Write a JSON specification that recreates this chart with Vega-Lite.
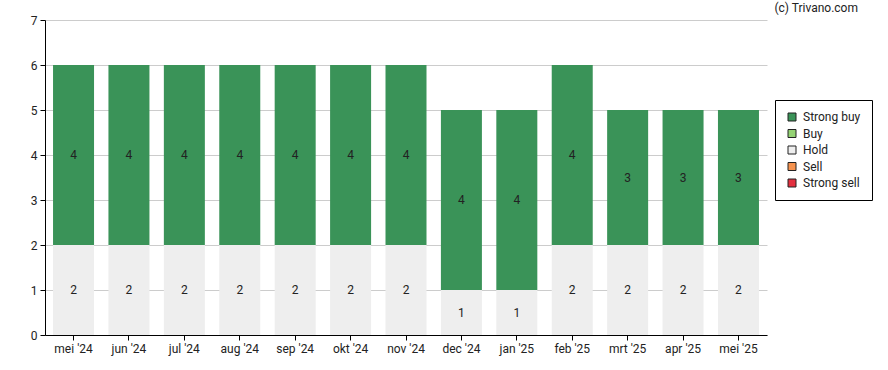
{
  "$schema": "https://vega.github.io/schema/vega-lite/v6.json",
  "width": 722,
  "height": 315,
  "autosize": {"type": "none"},
  "padding": {"left": 45, "top": 20, "right": 121, "bottom": 35},
  "background": "white",
  "title": {
    "text": "(c) Trivano.com",
    "anchor": "end",
    "frame": "group",
    "dx": 91,
    "offset": -1,
    "fontSize": 12,
    "fontWeight": "normal",
    "font": "Roboto",
    "color": "#222"
  },
  "config": {
    "font": "Roboto",
    "view": {"stroke": null},
    "axis": {"labelFont": "Roboto", "labelFontSize": 12, "labelColor": "#222", "domainColor": "#000", "tickColor": "#000", "title": null}
  },
  "data": {
    "values": [
      {"month": "mei '24", "rating": "Hold", "count": 2, "ord": 1},
      {"month": "mei '24", "rating": "Strong buy", "count": 4, "ord": 2},
      {"month": "jun '24", "rating": "Hold", "count": 2, "ord": 1},
      {"month": "jun '24", "rating": "Strong buy", "count": 4, "ord": 2},
      {"month": "jul '24", "rating": "Hold", "count": 2, "ord": 1},
      {"month": "jul '24", "rating": "Strong buy", "count": 4, "ord": 2},
      {"month": "aug '24", "rating": "Hold", "count": 2, "ord": 1},
      {"month": "aug '24", "rating": "Strong buy", "count": 4, "ord": 2},
      {"month": "sep '24", "rating": "Hold", "count": 2, "ord": 1},
      {"month": "sep '24", "rating": "Strong buy", "count": 4, "ord": 2},
      {"month": "okt '24", "rating": "Hold", "count": 2, "ord": 1},
      {"month": "okt '24", "rating": "Strong buy", "count": 4, "ord": 2},
      {"month": "nov '24", "rating": "Hold", "count": 2, "ord": 1},
      {"month": "nov '24", "rating": "Strong buy", "count": 4, "ord": 2},
      {"month": "dec '24", "rating": "Hold", "count": 1, "ord": 1},
      {"month": "dec '24", "rating": "Strong buy", "count": 4, "ord": 2},
      {"month": "jan '25", "rating": "Hold", "count": 1, "ord": 1},
      {"month": "jan '25", "rating": "Strong buy", "count": 4, "ord": 2},
      {"month": "feb '25", "rating": "Hold", "count": 2, "ord": 1},
      {"month": "feb '25", "rating": "Strong buy", "count": 4, "ord": 2},
      {"month": "mrt '25", "rating": "Hold", "count": 2, "ord": 1},
      {"month": "mrt '25", "rating": "Strong buy", "count": 3, "ord": 2},
      {"month": "apr '25", "rating": "Hold", "count": 2, "ord": 1},
      {"month": "apr '25", "rating": "Strong buy", "count": 3, "ord": 2},
      {"month": "mei '25", "rating": "Hold", "count": 2, "ord": 1},
      {"month": "mei '25", "rating": "Strong buy", "count": 3, "ord": 2}
    ]
  },
  "transform": [
    {"stack": "count", "groupby": ["month"], "sort": [{"field": "ord", "order": "ascending"}], "as": ["y0", "y1"]},
    {"calculate": "(datum.y0 + datum.y1) / 2", "as": "ymid"}
  ],
  "encoding": {
    "x": {
      "field": "month",
      "type": "ordinal",
      "sort": null,
      "scale": {"paddingInner": 0.26, "paddingOuter": 0.145},
      "axis": {"labelAngle": 0, "tickSize": 5, "labelPadding": 3, "domainWidth": 1, "labelFontSize": 12, "labelFont": "Roboto", "labelColor": "#222"}
    }
  },
  "layer": [
    {
      "mark": {"type": "bar"},
      "encoding": {
        "y": {
          "field": "y0",
          "type": "quantitative",
          "scale": {"domain": [0, 7], "nice": false},
          "axis": {"values": [0, 1, 2, 3, 4, 5, 6, 7], "tickSize": 5, "gridColor": "#cccccc", "gridWidth": 1, "labelPadding": 3, "labelFontSize": 12, "labelFont": "Roboto", "labelColor": "#222"}
        },
        "y2": {"field": "y1"},
        "color": {
          "field": "rating",
          "type": "nominal",
          "scale": {
            "domain": ["Strong buy", "Buy", "Hold", "Sell", "Strong sell"],
            "range": ["#3a9358", "#94d274", "#eeeeee", "#f6934f", "#e3303f"]
          },
          "legend": {
            "title": null,
            "orient": "none",
            "legendX": 730,
            "legendY": 80,
            "strokeColor": "#000",
            "fillColor": "white",
            "padding": 11,
            "symbolType": "square",
            "symbolSize": 64,
            "symbolStrokeColor": "#222",
            "symbolStrokeWidth": 1,
            "labelOffset": 5,
            "labelFontSize": 12,
            "labelFont": "Roboto",
            "labelColor": "#222",
            "rowPadding": 4.5,
            "values": ["Strong buy", "Buy", "Hold", "Sell", "Strong sell"]
          }
        }
      }
    },
    {
      "mark": {"type": "text", "fontSize": 12, "color": "#222", "baseline": "middle"},
      "encoding": {
        "y": {"field": "ymid", "type": "quantitative"},
        "text": {"field": "count", "type": "quantitative"}
      }
    }
  ]
}
